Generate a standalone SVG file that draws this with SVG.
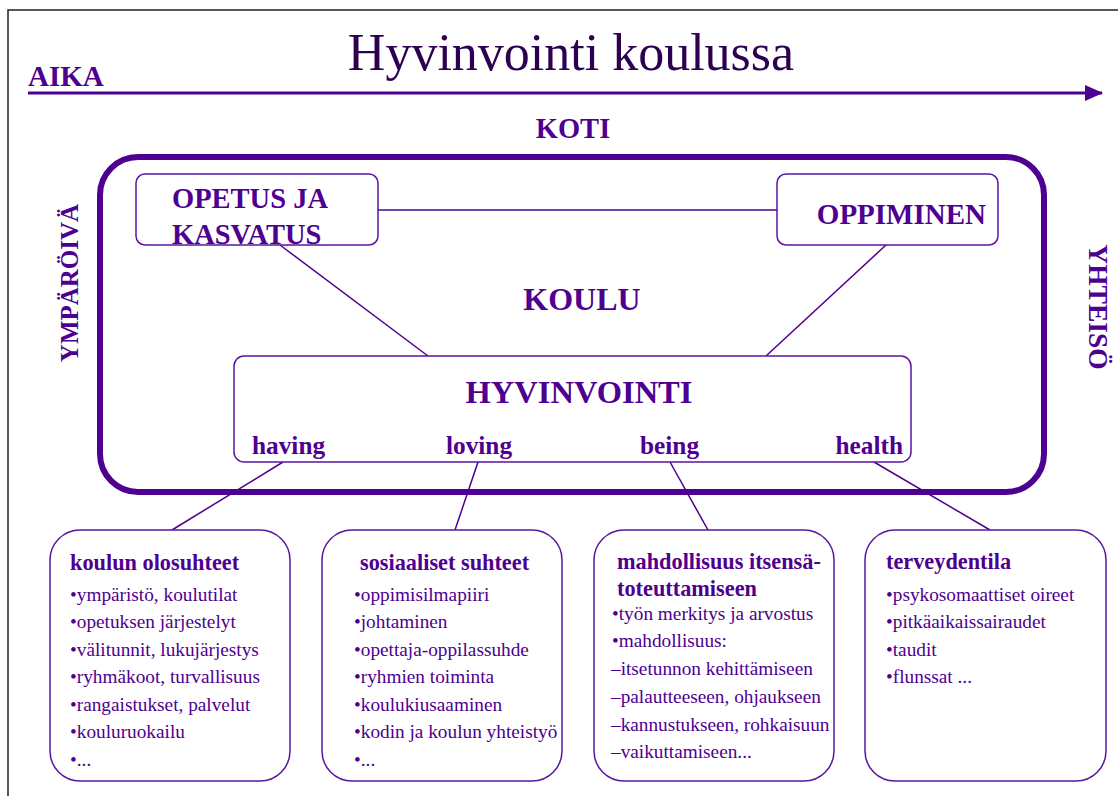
<svg xmlns="http://www.w3.org/2000/svg" width="1118" height="796" viewBox="0 0 1118 796">
<style>
text{font-family:"Liberation Serif","Times New Roman",serif;fill:#4E0090}
.b{font-weight:bold}
.title{font-size:52px;fill:#2E0050}
.lbl{font-size:28.5px}
.node{fill:#fff;stroke:#5A14A0;stroke-width:1.5}
.con{stroke:#4E0090;stroke-width:1.5;fill:none}
.it{font-size:19.3px}
.hd{font-size:22.3px;font-weight:bold}
.cat{font-size:25.3px;font-weight:bold}
</style>
<defs>
<marker id="ah" markerWidth="18" markerHeight="16" refX="17" refY="8" orient="auto" markerUnits="userSpaceOnUse">
<path d="M0,0 L18,8 L0,16 Z" fill="#4E0090"/>
</marker>
</defs>
<rect x="0" y="0" width="1118" height="796" fill="#fff"/>
<rect x="8" y="10" width="1125" height="800" fill="none" stroke="#222" stroke-width="1.5"/>
<text class="title" x="571" y="70" text-anchor="middle">Hyvinvointi koulussa</text>
<g id="aika">
<text class="b" font-size="29" x="28" y="86">AIKA</text>
<line x1="28" y1="93" x2="1102" y2="93" stroke="#4E0090" stroke-width="3" marker-end="url(#ah)"/>
</g>
<text class="b lbl" x="573" y="138" text-anchor="middle">KOTI</text>
<text class="b" font-size="25" transform="translate(78,283) rotate(-90)" text-anchor="middle">YMPÄRÖIVÄ</text>
<text class="b" font-size="27.5" transform="translate(1089,307) rotate(90)" text-anchor="middle">YHTEISÖ</text>
<g id="koulu">
<rect x="100" y="157" width="944" height="335" rx="38" fill="none" stroke="#4E0090" stroke-width="6"/>
<text class="b" font-size="32" x="582" y="310" text-anchor="middle">KOULU</text>
</g>
<g id="connectors">
<line class="con" x1="378" y1="210" x2="777" y2="210"/>
<line class="con" x1="280" y1="245" x2="428" y2="356"/>
<line class="con" x1="886" y1="245" x2="766" y2="356"/>
<line class="con" x1="283" y1="462" x2="172" y2="530"/>
<line class="con" x1="478" y1="462" x2="455" y2="530"/>
<line class="con" x1="670" y1="462" x2="708" y2="530"/>
<line class="con" x1="874" y1="462" x2="990" y2="530"/>
</g>
<g id="opetus">
<rect class="node" x="136" y="174" width="242" height="71" rx="9"/>
<text class="b lbl" x="172" y="208">OPETUS JA</text>
<text class="b lbl" x="172" y="244">KASVATUS</text>
</g>
<g id="oppiminen">
<rect class="node" x="777" y="174" width="221" height="71" rx="9"/>
<text class="b" font-size="29" x="986" y="224" text-anchor="end">OPPIMINEN</text>
</g>
<g id="hyvinvointi">
<rect class="node" x="234" y="356" width="677" height="106" rx="10"/>
<text class="b" font-size="32.5" x="579" y="403" text-anchor="middle">HYVINVOINTI</text>
<text class="cat" x="252" y="454">having</text>
<text class="cat" x="446" y="454">loving</text>
<text class="cat" x="640" y="454">being</text>
<text class="cat" x="903" y="454" text-anchor="end">health</text>
</g>
<g id="box-having">
<rect class="node" x="50" y="530" width="240" height="251" rx="30"/>
<text class="hd" x="70" y="570">koulun olosuhteet</text>
<text class="it" x="70" y="601">•ympäristö, koulutilat</text>
<text class="it" x="70" y="628">•opetuksen järjestelyt</text>
<text class="it" x="70" y="656">•välitunnit, lukujärjestys</text>
<text class="it" x="70" y="683">•ryhmäkoot, turvallisuus</text>
<text class="it" x="70" y="711">•rangaistukset, palvelut</text>
<text class="it" x="70" y="738">•kouluruokailu</text>
<text class="it" x="70" y="766">•...</text>
</g>
<g id="box-loving">
<rect class="node" x="322" y="530" width="240" height="251" rx="30"/>
<text class="hd" x="360" y="570">sosiaaliset suhteet</text>
<text class="it" x="354" y="601">•oppimisilmapiiri</text>
<text class="it" x="354" y="628">•johtaminen</text>
<text class="it" x="354" y="656">•opettaja-oppilassuhde</text>
<text class="it" x="354" y="683">•ryhmien toiminta</text>
<text class="it" x="354" y="711">•koulukiusaaminen</text>
<text class="it" x="354" y="738">•kodin ja koulun yhteistyö</text>
<text class="it" x="354" y="766">•...</text>
</g>
<g id="box-being">
<rect class="node" x="594" y="530" width="240" height="251" rx="30"/>
<text class="hd" x="617" y="569">mahdollisuus itsensä-</text>
<text class="hd" x="617" y="596">toteuttamiseen</text>
<text class="it" x="612" y="620">•työn merkitys ja arvostus</text>
<text class="it" x="612" y="647">•mahdollisuus:</text>
<text class="it" x="611" y="675">–itsetunnon kehittämiseen</text>
<text class="it" x="611" y="703">–palautteeseen, ohjaukseen</text>
<text class="it" x="611" y="731">–kannustukseen, rohkaisuun</text>
<text class="it" x="611" y="758">–vaikuttamiseen...</text>
</g>
<g id="box-health">
<rect class="node" x="865" y="530" width="241" height="251" rx="30"/>
<text class="hd" x="886" y="569">terveydentila</text>
<text class="it" x="886" y="601">•psykosomaattiset oireet</text>
<text class="it" x="886" y="628">•pitkäaikaissairaudet</text>
<text class="it" x="886" y="656">•taudit</text>
<text class="it" x="886" y="683">•flunssat ...</text>
</g>
</svg>
